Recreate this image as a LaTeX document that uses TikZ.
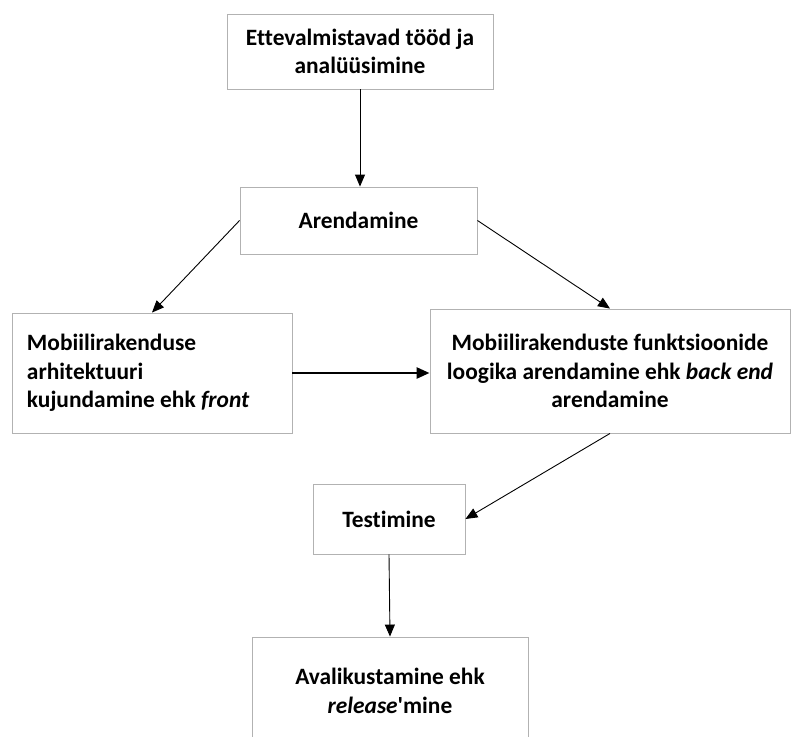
\documentclass[tikz,border=0pt]{standalone}
\usepackage{fontspec}
\newfontfamily\carl{Carlito}[Ligatures=NoCommon]
\usetikzlibrary{arrows.meta}
\begin{document}
\begin{tikzpicture}[x=1bp,y=-1bp,
  box/.style={draw=black!30, line width=0.9bp, inner sep=0pt, align=center,
    font=\carl\fontsize{23.5}{28.5}\selectfont\bfseries},
  conn/.style={line width=0.9bp, -{Triangle[length=12bp,width=10bp]}},
  thick conn/.style={line width=2.6bp, -{Triangle[length=13bp,width=11bp]}}]
\useasboundingbox[fill=white] (0,0) rectangle (792,737);
\node[box, minimum width=266bp, minimum height=75bp] (prep) at (360,51.5)
  {Ettevalmistavad tööd ja\\analüüsimine};
\node[box, minimum width=237bp, minimum height=67bp] (arend) at (358.5,220.5)
  {Arendamine};
\node[box, minimum height=120bp, inner xsep=15bp, text width=250bp, align=flush left] (front) at (152,373)
  {Mobiilirakenduse\\arhitektuuri\\kujundamine ehk \textit{front}};
\node[box, minimum width=360bp, minimum height=124bp] (back) at (610,371)
  {Mobiilirakenduste funktsioonide\\loogika arendamine ehk \textit{back end}\\arendamine};
\node[box, minimum width=152bp, minimum height=70bp] (test) at (389,519)
  {Testimine};
\node[box, minimum width=276bp, minimum height=108bp] (rel) at (390,691)
  {Avalikustamine ehk\\\textit{release}'mine};
\draw[conn] (prep.south) -- (prep.south |- arend.north);
\draw[conn] (arend.west) -- (front.north);
\draw[conn] (arend.east) -- (back.north);
\draw[thick conn] (front.east) -- (front.east -| back.west);
\draw[conn] (back.south) -- (test.east);
\draw[conn] (test.south) -- (rel.north);
\end{tikzpicture}
\end{document}
